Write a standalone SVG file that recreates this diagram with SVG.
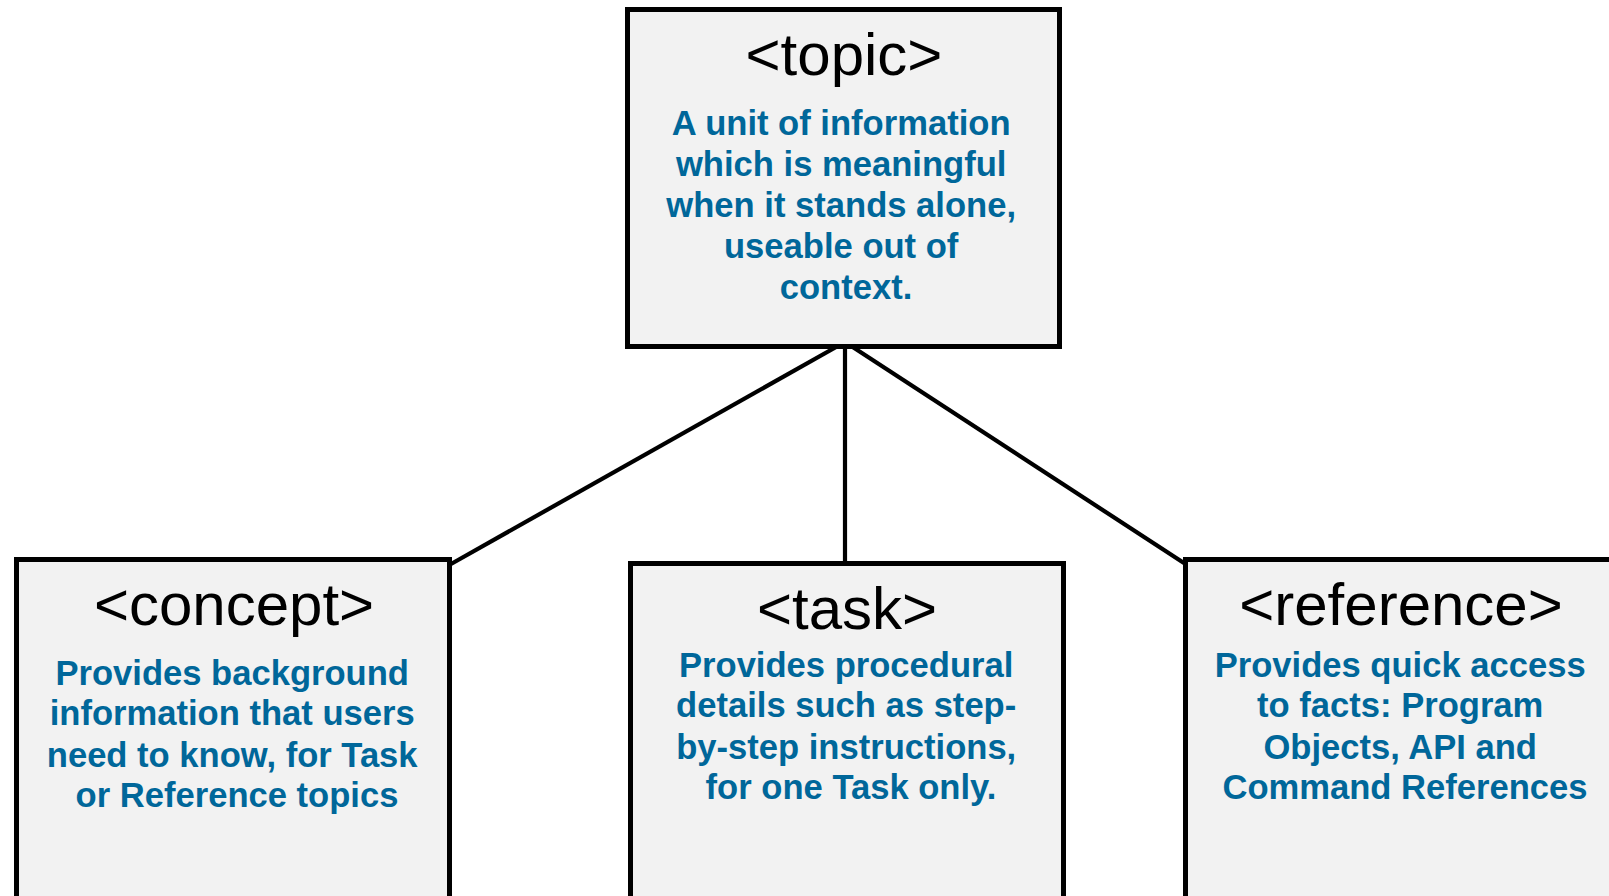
<svg xmlns="http://www.w3.org/2000/svg" width="1609" height="896" viewBox="0 0 1609 896">
  <style>
    .box { fill: #f2f2f2; stroke: #000; stroke-width: 5; }
    .title { font-family: "Liberation Sans", Arial, sans-serif; font-size: 60px; fill: #000; text-anchor: middle; }
    .desc { font-family: "Liberation Sans", Arial, sans-serif; font-size: 34.6px; font-weight: bold; fill: #00679a; text-anchor: middle; }
    .link { stroke: #000; stroke-width: 4.2; fill: none; }
  </style>
  <rect width="1609" height="896" fill="#fff"/>

  <g id="connectors">
    <line class="link" x1="845" y1="342" x2="451" y2="564"/>
    <line class="link" x1="845" y1="342" x2="845" y2="563"/>
    <line class="link" x1="845" y1="342" x2="1187" y2="565"/>
  </g>

  <g id="topic">
    <rect class="box" x="627.5" y="9.5" width="432" height="337"/>
    <text class="title" x="844" y="75">&lt;topic&gt;</text>
    <text class="desc">
      <tspan x="846" y="135">A unit of information</tspan>
      <tspan x="846" y="176">which is meaningful</tspan>
      <tspan x="846" y="217">when it stands alone,</tspan>
      <tspan x="846" y="258">useable out of</tspan>
      <tspan x="846" y="299">context.</tspan>
    </text>
  </g>

  <g id="concept">
    <rect class="box" x="16.5" y="559.5" width="433" height="360"/>
    <text class="title" x="234" y="625">&lt;concept&gt;</text>
    <text class="desc">
      <tspan x="237" y="685">Provides background</tspan>
      <tspan x="237" y="725">information that users</tspan>
      <tspan x="237" y="767">need to know, for Task</tspan>
      <tspan x="237" y="807">or Reference topics</tspan>
    </text>
  </g>

  <g id="task">
    <rect class="box" x="630.5" y="563.5" width="433" height="360"/>
    <text class="title" x="847" y="629">&lt;task&gt;</text>
    <text class="desc">
      <tspan x="851" y="677">Provides procedural</tspan>
      <tspan x="851" y="717">details such as step-</tspan>
      <tspan x="851" y="759">by-step instructions,</tspan>
      <tspan x="851" y="799">for one Task only.</tspan>
    </text>
  </g>

  <g id="reference">
    <rect class="box" x="1185.5" y="559.5" width="450" height="360"/>
    <text class="title" x="1401" y="625">&lt;reference&gt;</text>
    <text class="desc">
      <tspan x="1405" y="677">Provides quick access</tspan>
      <tspan x="1405" y="717">to facts: Program</tspan>
      <tspan x="1405" y="759">Objects, API and</tspan>
      <tspan x="1405" y="799">Command References</tspan>
    </text>
  </g>
</svg>
